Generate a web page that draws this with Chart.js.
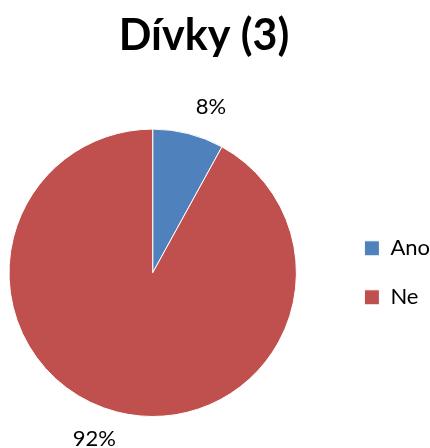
<!DOCTYPE html>
<html>
<head>
<meta charset="utf-8">
<script src="https://cdn.jsdelivr.net/npm/chart.js@4/dist/chart.umd.min.js"></script>
<style>
  html, body { margin: 0; padding: 0; background: #fff; }
  #wrap { width: 430px; height: 448px; overflow: hidden; position: relative; }
  /* canvas runs a bit wider than the page so the pie sits left of centre */
  #box { position: absolute; left: -32px; top: 0; width: 472px; height: 448px; }
</style>
</head>
<body>
<div id="wrap"><div id="box"><canvas id="pieChart"></canvas></div></div>
<script>
'use strict';
let titleText = 'Dívky (3)';
let answers = ['Ano', 'Ne'];
let percents = [8, 92];
let colors = ['#4F81BD', '#C0504D'];

// percentage labels just outside each slice
const outsideLabels = {
  id: 'outsideLabels',
  afterDatasetsDraw(chart) {
    let ctx = chart.ctx;
    let arcs = chart.getDatasetMeta(0).data;
    ctx.save();
    ctx.font = '22px Lato';
    ctx.fillStyle = '#000';
    ctx.textAlign = 'center';
    ctx.textBaseline = 'middle';
    for (let i = 0; i < arcs.length; i++) {
      let arc = arcs[i];
      let mid = (arc.startAngle + arc.endAngle) / 2 + 5 * Math.PI / 180;
      let dist = arc.outerRadius + 32;
      let x = arc.x + Math.cos(mid) * dist;
      let y = arc.y + Math.sin(mid) * dist;
      ctx.fillText(percents[i] + '%', x, y);
    }
    ctx.restore();
  }
};

const data = {
  labels: answers,
  datasets: [{
    data: percents,
    backgroundColor: colors,
    borderColor: '#fff',
    borderWidth: 1
  }]
};

const config = {
  type: 'pie',
  data: data,
  options: {
    responsive: true,
    maintainAspectRatio: false,
    animation: false,
    layout: {
      padding: { left: 0, right: 0, top: 0, bottom: 31 }
    },
    plugins: {
      title: {
        display: true,
        text: titleText,
        color: '#000',
        font: { family: 'Lato', size: 43, weight: 'bold', lineHeight: 1.2 },
        padding: { top: 10, bottom: 67 }
      },
      legend: {
        position: 'right',
        fullSize: false,
        labels: {
          color: '#000',
          font: { family: 'Lato', size: 22 },
          boxWidth: 15,
          boxHeight: 15,
          padding: 27
        }
      },
      tooltip: { enabled: false }
    }
  },
  plugins: [outsideLabels]
};

let pieChart = new Chart(
  document.getElementById('pieChart'),
  config
);
</script>
</body>
</html>
